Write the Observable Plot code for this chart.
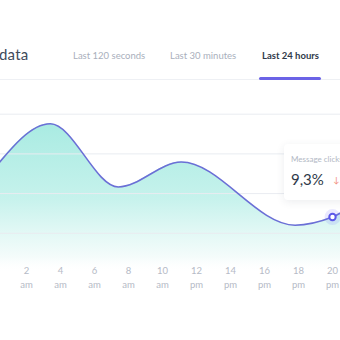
<!DOCTYPE html>
<html>
<head>
<meta charset="utf-8">
<script src="https://cdn.jsdelivr.net/npm/d3@7"></script>
<script src="https://cdn.jsdelivr.net/npm/@observablehq/plot@0.6"></script>
<style>
  html, body { margin: 0; padding: 0; background: #fff; }
  body { width: 340px; height: 340px; overflow: hidden; position: relative; font-family: Lato, "Open Sans", sans-serif; }
  .title { position: absolute; left: -1px; top: 45px; font-size: 15px; color: #3f4b5b; letter-spacing: 0.2px; }
  .tab { position: absolute; top: 50px; font-size: 9.5px; color: #a9afbc; white-space: nowrap; }
  .tab.active { color: #2f3a4a; font-weight: 700; }
  .divider { position: absolute; left: 0; top: 79px; width: 340px; height: 1px; background: #eef0f4; }
  .underline { position: absolute; left: 259px; top: 77px; width: 62px; height: 3px; border-radius: 2px; background: #6b63e6; }
  #chart { position: absolute; left: 0; top: 80px; }
  .card { position: absolute; left: 284px; top: 144px; width: 90px; height: 56px; background: #fff; border-radius: 4px; box-shadow: 0 2px 8px rgba(40,50,80,0.09); }
  .card .lbl { position: absolute; left: 7px; top: 10px; font-size: 8px; color: #b2b8c4; white-space: nowrap; }
  .card .val { position: absolute; left: 7px; top: 26px; font-size: 15px; color: #2f3a4a; white-space: nowrap; }
  .card .chg { position: absolute; left: 49px; top: 31px; font-size: 8.5px; color: #f28b78; white-space: nowrap; }
</style>
</head>
<body>
<div class="title">data</div>
<div class="tab" style="left:73px">Last 120 seconds</div>
<div class="tab" style="left:170px">Last 30 minutes</div>
<div class="tab active" style="left:262px">Last 24 hours</div>
<div class="divider"></div>
<div class="underline"></div>
<div id="chart"></div>
<div class="card">
  <div class="lbl">Message clicks</div>
  <div class="val">9,3%</div>
  <div class="chg">↓1,2%</div>
</div>
<script>
// Data (hour of day, message click rate %)
const hours  = [0, 3.4, 7.4, 11.1, 17.8, 20, 22.5, 24];
const clicks = [17.0, 24.8, 14.3, 18.45, 7.95, 9.3, 13.5, 14.5];
const tickHours = [0, 2, 4, 6, 8, 10, 12, 14, 16, 18, 20, 22];
const gridValues = [6.6, 13.2, 19.8, 26.4];
const highlightHour = 20;

const data = hours.map((h, i) => ({hour: h, value: clicks[i]}));
const highlight = data.filter(d => d.hour === highlightHour);

const plot = Plot.plot({
  width: 340,
  height: 260,
  marginLeft: 0,
  marginRight: 0,
  marginTop: 0,
  marginBottom: 67,
  style: {fontFamily: "Lato, 'Open Sans', sans-serif", background: "transparent", overflow: "visible"},
  x: {domain: [0, 24], range: [-8, 400], axis: null},
  y: {domain: [0, 33], range: [192.5, -6], axis: null},
  marks: [
    Plot.areaY(data, {x: "hour", y: "value", curve: "monotone-x", fill: "url(#areaGrad)"}),
    Plot.gridY(gridValues, {stroke: "#e9ecf1", strokeOpacity: 1, strokeWidth: 1}),
    Plot.lineY(data, {x: "hour", y: "value", curve: "monotone-x", stroke: "#6b6fd6", strokeWidth: 1.6}),
    Plot.dot(highlight, {x: "hour", y: "value", r: 8, fill: "#6c63ff", fillOpacity: 0.14, stroke: null}),
    Plot.dot(highlight, {x: "hour", y: "value", r: 3.2, fill: "#fff", stroke: "#5b57e8", strokeWidth: 2}),
    Plot.axisX({ticks: tickHours, tickSize: 0, tickPadding: -6, tickFormat: d => String(d), fontSize: 9.5, color: "#b5bac6", label: null}),
    Plot.axisX({ticks: tickHours, tickSize: 0, tickPadding: 8, tickFormat: d => d < 12 ? "am" : "pm", fontSize: 9.5, color: "#b5bac6", label: null})
  ]
});

const svg = d3.select(plot);
const grad = svg.insert("defs", ":first-child").append("linearGradient")
  .attr("id", "areaGrad").attr("x1", 0).attr("y1", 0).attr("x2", 0).attr("y2", 1);
[[0, "#a9ebe2", 1], [0.5, "#c6f2ec", 1], [0.73, "#e2f8f5", 1], [0.9, "#f5fcfb", 1], [1, "#ffffff", 0]]
  .forEach(([o, c, a]) => grad.append("stop").attr("offset", o).attr("stop-color", c).attr("stop-opacity", a));

document.getElementById("chart").appendChild(plot);
</script>
</body>
</html>
